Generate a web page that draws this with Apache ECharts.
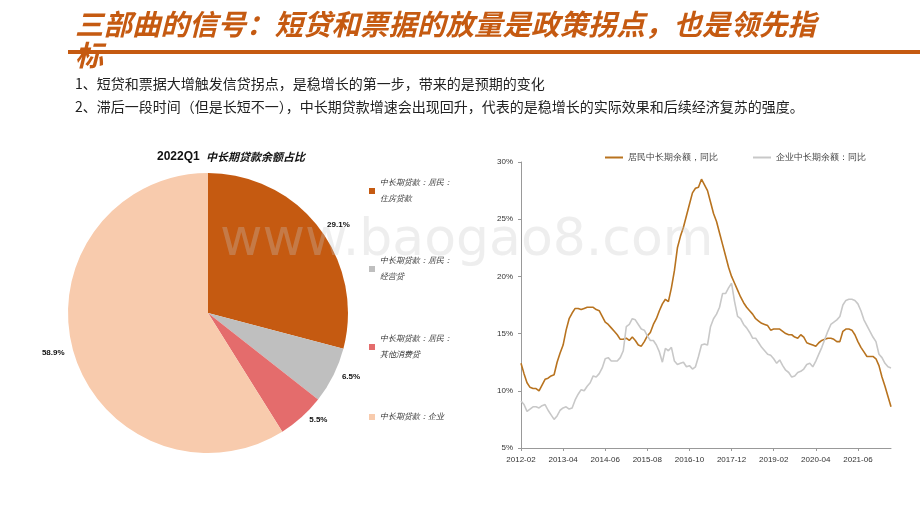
<!DOCTYPE html>
<html><head><meta charset="utf-8">
<script src="https://cdn.jsdelivr.net/npm/echarts@6/dist/echarts.min.js"></script>
<style>html,body{margin:0;padding:0;background:#fff}#c{width:920px;height:518px}</style>
</head><body><div id="c"></div>
<script>
const pieNames = ['中长期贷款：居民：\n住房贷款','中长期贷款：居民：\n经营贷','中长期贷款：居民：\n其他消费贷','中长期贷款：企业'];
const pieValues = [29.1, 6.5, 5.5, 58.9];
const pieColors = ['#C55A11','#BFBFBF','#E46C6C','#F8CBAD'];
const residentGrowth = [12.4,11.5,10.7,10.3,10.2,10.2,10.0,10.5,11.0,11.1,11.3,11.4,12.5,13.3,14.0,15.3,16.3,16.8,17.2,17.2,17.1,17.2,17.3,17.3,17.3,17.1,17.0,16.5,16.0,15.8,15.5,15.2,14.9,14.5,14.5,14.6,14.4,14.7,14.4,14.0,13.9,14.3,14.8,15.1,15.8,16.3,17.0,17.6,18.0,17.8,19.0,20.5,22.5,23.5,24.3,25.3,26.3,27.3,27.7,27.8,28.5,28.0,27.5,26.5,25.5,24.8,23.8,22.8,21.8,20.8,20.0,19.4,18.8,18.2,17.7,17.3,17.0,16.7,16.3,16.1,15.9,15.8,15.7,15.3,15.4,15.4,15.4,15.2,15.0,14.9,14.9,14.7,14.6,14.9,14.7,14.2,14.1,14.0,13.9,14.2,14.4,14.5,14.6,14.6,14.5,14.3,14.3,15.2,15.4,15.4,15.3,14.9,14.3,13.8,13.4,13.0,13.0,13.0,12.8,12.2,11.2,10.4,9.5,8.6];
const corporateGrowth = [9.1,8.8,8.2,8.4,8.6,8.6,8.5,8.7,8.8,8.3,7.9,7.5,7.8,8.3,8.5,8.6,8.4,8.5,9.2,9.7,10.1,10.0,10.4,10.7,11.3,11.2,11.5,12.0,12.8,12.9,12.6,12.6,12.6,12.9,13.5,15.6,15.8,16.3,16.2,15.8,15.4,15.3,14.8,14.4,14.4,14.0,13.4,12.5,13.7,13.5,13.8,12.6,12.3,12.4,12.5,12.1,12.2,11.9,12.1,13.0,14.0,14.1,14.0,15.6,16.3,16.7,17.3,18.5,18.5,19.0,19.4,17.8,16.5,16.3,15.8,15.5,15.1,14.6,14.6,14.2,13.8,13.5,13.2,13.1,12.8,12.4,12.7,12.2,11.8,11.6,11.2,11.3,11.6,11.7,11.9,12.3,12.4,12.1,12.6,13.2,13.8,14.5,15.2,15.8,16.0,16.2,16.5,17.5,17.9,18.0,18.0,17.9,17.6,17.0,16.2,15.7,15.2,14.7,14.3,13.2,12.9,12.4,12.1,12.0];
const months = [];
for (let i = 0; i < residentGrowth.length; i++) {
  const m = 1 + i; const y = 2012 + Math.floor(m / 12); const mm = m % 12 + 1;
  months.push(y + '-' + String(mm).padStart(2, '0'));
}
const tickLabels = ['2012-02','2013-04','2014-06','2015-08','2016-10','2017-12','2019-02','2020-04','2021-06'];
const chart = echarts.init(document.getElementById('c'));
chart.setOption({
  animation: false,
  graphic: [
    {type:'rect', shape:{x:68,y:50,width:852,height:4}, style:{fill:'#C55A11'}},
    {type:'text', left:75, top:9, style:{text:'三部曲的信号：短贷和票据的放量是政策拐点，也是领先指\n标', fill:'#C55A11', font:'italic bold 28.5px "Noto Sans CJK SC"', lineHeight:31}},
    {type:'text', left:75, top:77, style:{text:'1、短贷和票据大增触发信贷拐点，是稳增长的第一步，带来的是预期的变化', fill:'#222', font:'14px "Noto Sans CJK SC"'}},
    {type:'text', left:75, top:100, style:{text:'2、滞后一段时间（但是长短不一），中长期贷款增速会出现回升，代表的是稳增长的实际效果和后续经济复苏的强度。', fill:'#222', font:'14px "Noto Sans CJK SC"'}},
    {type:'text', left:157, top:151, style:{text:'2022Q1', fill:'#111', font:'bold 12px "Liberation Sans"'}},
    {type:'text', left:206, top:151, style:{text:'中长期贷款余额占比', fill:'#111', font:'italic bold 11px "Noto Sans CJK SC"'}},
    {type:'text', left:220, top:215, z:100, style:{text:'www.baogao8.com', fill:'rgba(200,200,200,0.3)', font:'52px "DejaVu Sans"'}}
  ],
  legend: [{
    data: pieNames, orient:'vertical', left:364, top:170, itemGap:46, itemWidth:6, itemHeight:6, icon:'rect',
    textStyle:{fontSize:8, fontStyle:'italic', color:'#333', lineHeight:16}
  },{
    data:['居民中长期余额，同比','企业中长期余额：同比'], top:148, left:600, itemGap:35, itemWidth:18, icon:'rect', itemHeight:2,
    textStyle:{fontSize:9, color:'#444'}
  }],
  grid: {left:521, right:29, top:162, bottom:70},
  xAxis: {type:'category', data:months, boundaryGap:false,
    axisLine:{lineStyle:{color:'#999'}}, axisTick:{interval:13, length:3, lineStyle:{color:'#999'}},
    axisLabel:{interval:13, fontSize:8, color:'#333', formatter:v=>tickLabels.includes(v)?v:''}},
  yAxis: {type:'value', min:5, max:30, interval:5, splitLine:{show:false},
    axisLine:{show:true, lineStyle:{color:'#999'}}, axisTick:{show:true, length:3},
    axisLabel:{fontSize:8, color:'#333', formatter:'{value}%'}},
  series: [
    {type:'pie', radius:140, center:[208,313], startAngle:90, clockwise:true,
      data: pieNames.map((n,i)=>({name:n, value:pieValues[i], itemStyle:{color:pieColors[i]}})),
      label:{show:true, position:'outside', formatter:p=>p.value.toFixed(1)+'%', fontSize:8, fontWeight:'bold', color:'#111'},
      labelLine:{show:false, length:4, length2:0}},
    {type:'line', name:'居民中长期余额，同比', data:residentGrowth, showSymbol:false, lineStyle:{width:1.6, color:'#B8731F'}, itemStyle:{color:'#B8731F'}},
    {type:'line', name:'企业中长期余额：同比', data:corporateGrowth, showSymbol:false, lineStyle:{width:1.6, color:'#C8C8C8'}, itemStyle:{color:'#C8C8C8'}}
  ]
});
</script></body></html>
